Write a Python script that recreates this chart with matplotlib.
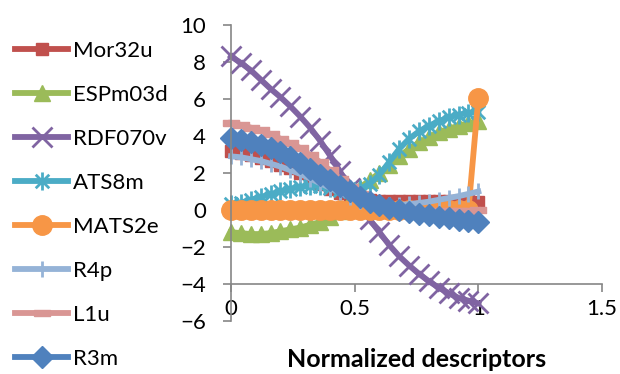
import matplotlib
matplotlib.use("Agg")
import matplotlib.pyplot as plt
from matplotlib.path import Path

plt.rcParams["font.family"] = ["Lato", "DejaVu Sans"]

# descriptor grid (26 points, step 0.04)
x = [0.00, 0.04, 0.08, 0.12, 0.16, 0.20, 0.24, 0.28, 0.32, 0.36, 0.40, 0.44, 0.48,
     0.52, 0.56, 0.60, 0.64, 0.68, 0.72, 0.76, 0.80, 0.84, 0.88, 0.92, 0.96, 1.00]

mor32u = [3.2, 3.1, 2.95, 2.8, 2.65, 2.45, 2.25, 2.0, 1.7, 1.4, 1.15, 0.9, 0.7,
          0.6, 0.52, 0.5, 0.5, 0.5, 0.5, 0.5, 0.5, 0.5, 0.5, 0.5, 0.5, 0.45]
espm03d = [-1.2, -1.25, -1.3, -1.3, -1.25, -1.15, -1.05, -0.95, -0.8, -0.65, -0.4, -0.05, 0.5,
           1.2, 1.6, 2.0, 2.45, 2.9, 3.3, 3.65, 3.95, 4.2, 4.4, 4.55, 4.7, 4.8]
rdf070v = [8.3, 7.95, 7.55, 7.05, 6.55, 6.1, 5.6, 5.05, 4.45, 3.75, 2.95, 2.1, 1.2,
           0.3, -0.5, -1.2, -1.9, -2.5, -3.0, -3.45, -3.85, -4.2, -4.5, -4.75, -4.9, -5.05]
ats8m = [0.3, 0.4, 0.55, 0.7, 0.85, 1.0, 1.15, 1.25, 1.3, 1.3, 1.2, 1.1, 1.05,
         1.15, 1.4, 1.9, 2.6, 3.3, 3.85, 4.25, 4.55, 4.8, 5.0, 5.15, 5.25, 5.3]
mats2e = [0.0, 0.0, 0.0, 0.0, 0.0, 0.0, 0.0, 0.0, 0.0, 0.0, 0.0, 0.0, 0.0,
          0.0, 0.0, 0.0, 0.0, 0.0, 0.0, 0.0, 0.0, 0.0, 0.0, 0.0, 0.0, 6.05]
r4p = [2.9, 2.85, 2.75, 2.65, 2.5, 2.35, 2.15, 1.95, 1.7, 1.45, 1.2, 0.95, 0.7,
       0.5, 0.35, 0.28, 0.25, 0.27, 0.32, 0.38, 0.45, 0.55, 0.65, 0.75, 0.87, 1.0]
l1u = [4.7, 4.6, 4.45, 4.3, 4.1, 3.85, 3.6, 3.35, 2.95, 2.6, 2.15, 1.7, 1.25,
       0.85, 0.5, 0.3, 0.15, 0.05, 0.0, -0.05, -0.05, -0.05, -0.05, -0.05, -0.05, 0.0]
r3m = [3.9, 3.8, 3.65, 3.5, 3.35, 3.15, 2.85, 2.55, 2.2, 1.9, 1.6, 1.3, 1.0,
       0.7, 0.45, 0.25, 0.1, 0.0, -0.1, -0.2, -0.28, -0.36, -0.44, -0.52, -0.58, -0.65]

labels = ["Mor32u", "ESPm03d", "RDF070v", "ATS8m", "MATS2e", "R4p", "L1u", "R3m"]
colors = ["#C0504D", "#9BBB59", "#8064A2", "#4BACC6", "#F79646", "#95B3D7", "#D99694", "#4F81BD"]

asterisk = Path([(0, -1), (0, 1), (-0.75, -0.75), (0.75, 0.75), (-0.75, 0.75), (0.75, -0.75)],
                [Path.MOVETO, Path.LINETO, Path.MOVETO, Path.LINETO, Path.MOVETO, Path.LINETO])
dash = [(-1, -0.45), (1, -0.45), (1, 0.45), (-1, 0.45), (-1, -0.45)]

styles = [
    dict(marker="s", ms=9),
    dict(marker="^", ms=11),
    dict(marker="x", ms=14, mew=2),
    dict(marker=asterisk, ms=13, mew=2),
    dict(marker="o", ms=14),
    dict(marker="|", ms=12, mew=2),
    dict(marker=dash, ms=11),
    dict(marker="D", ms=11),
]
series = [mor32u, espm03d, rdf070v, ats8m, mats2e, r4p, l1u, r3m]

fig = plt.figure(figsize=(6.2, 3.74), dpi=100)
ax = fig.add_axes([0.3726, 0.1417, 0.971 - 0.3726, 0.9332 - 0.1417])

for y, lab, c, st in zip(series, labels, colors, styles):
    ax.plot(x, y, color=c, lw=4.2, mec=c, mfc=c, label=lab, clip_on=False, **st)

ax.set_xlim(0, 1.5)
ax.set_ylim(-6, 10)
ax.set_yticks([-6, -4, -2, 0, 2, 4, 6, 8, 10])
ax.set_xticks([0, 0.5, 1, 1.5])
ax.set_xticklabels(["0", "0.5", "1", "1.5"])

axis_gray = "#868686"
for s in ["top", "right"]:
    ax.spines[s].set_visible(False)
ax.spines["left"].set_color(axis_gray)
ax.spines["left"].set_linewidth(1.2)
ax.spines["bottom"].set_color(axis_gray)
ax.spines["bottom"].set_linewidth(1.2)
ax.spines["bottom"].set_position(("data", -4))
ax.spines["bottom"].set_zorder(0)

ax.tick_params(axis="y", length=6, width=1.2, color=axis_gray, pad=12, labelsize=16)
ax.tick_params(axis="x", length=6, width=1.2, color=axis_gray, pad=5, labelsize=16)
ax.set_xlabel("Normalized descriptors", fontsize=18, fontweight="bold", labelpad=21)

fig.legend(loc="upper left", bbox_to_anchor=(0.01, 0.915), frameon=False, fontsize=16,
           labelspacing=1.08, handlelength=2.4, handletextpad=0.22, borderaxespad=0.0)

fig.savefig("out.png", dpi=100)
